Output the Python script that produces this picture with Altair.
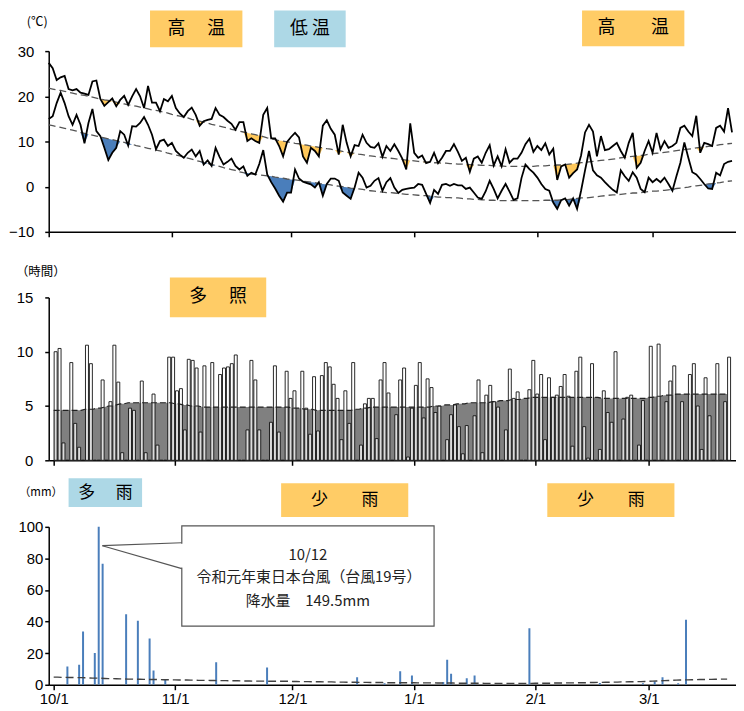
import altair as alt
import pandas as pd

START = "2019-10-01"

# daily maximum temperature (deg C), 2019-10-01 .. 2020-03-21
tmax = [27.4, 26.2, 23.6, 24.2, 24.5, 21.6, 21.3, 21.6, 20.8, 20.6,
        20.3, 23.3, 23.5, 19.4, 17.9, 18.7, 19.5, 17.8, 19.2, 20.1,
        18.1, 20.0, 21.6, 20.0, 17.4, 22.3, 18.6, 18.6, 16.7, 19.4,
        18.9, 20.1, 17.4, 16.2, 15.4, 16.7, 17.5, 15.9, 13.5, 14.5,
        14.8, 15.0, 17.4, 15.9, 15.4, 14.6, 13.9, 12.6, 14.3, 14.3,
        10.1, 10.7, 10.1, 9.7, 15.9, 17.4, 10.7, 10.7, 9.0, 6.7,
        9.9, 11.0, 11.9, 10.9, 6.7, 5.3, 8.6, 7.9, 6.7, 13.5,
        14.7, 12.8, 11.5, 7.1, 13.7, 9.7, 6.7, 9.2, 9.0, 11.5,
        9.7, 8.8, 8.6, 9.6, 6.6, 9.0, 7.9, 9.4, 7.9, 6.2,
        3.8, 14.0, 7.5, 6.4, 6.9, 5.2, 5.5, 7.5, 5.2, 6.4,
        7.9, 7.9, 9.4, 7.7, 5.7, 6.4, 3.3, 6.2, 6.7, 5.3,
        7.5, 9.2, 4.7, 6.7, 4.5, 8.3, 5.3, 6.2, 6.2, 7.5,
        9.4, 10.6, 7.7, 9.0, 8.1, 9.6, 7.1, 8.4, 1.5, 4.5,
        4.9, 2.0, 3.0, 3.8, 6.9, 12.0, 13.7, 12.2, 6.7, 11.2,
        8.1, 8.3, 9.0, 9.7, 7.9, 6.4, 9.7, 11.9, 4.2, 5.3,
        7.9, 10.1, 7.5, 11.9, 8.3, 10.1, 8.6, 9.0, 9.7, 13.0,
        13.5, 12.2, 11.2, 15.7, 7.5, 9.7, 9.4, 9.0, 13.0, 13.5,
        12.2, 17.4, 12.0]

# daily minimum temperature (deg C)
tmin = [15.0, 15.6, 18.5, 20.8, 18.5, 15.6, 13.7, 15.9, 13.7, 9.6,
        14.1, 17.2, 12.3, 11.2, 8.6, 5.9, 7.5, 8.6, 12.3, 11.5,
        9.1, 13.4, 13.3, 14.1, 15.4, 13.7, 11.5, 8.3, 10.1, 10.4,
        9.0, 9.7, 7.9, 7.1, 6.4, 7.5, 8.2, 6.7, 7.9, 4.9,
        5.8, 4.6, 8.6, 6.6, 4.9, 5.5, 6.2, 4.6, 3.8, 4.5,
        2.4, 3.1, 2.7, 5.0, 8.1, 2.7, 1.0, -0.4, -2.0, -3.3,
        -1.3, -1.3, 3.8, 1.8, 1.1, 0.8, 0.5, -0.2, 1.0, -2.0,
        0.6, 1.8, 1.8, 1.3, -1.3, -2.0, -2.7, -0.2, 3.1, 2.0,
        -0.2, 0.2, 1.3, 1.9, -0.9, 1.0, 1.9, -0.2, -1.4, -0.7,
        -0.5, -0.3, -0.2, 0.6, 0.4, -1.6, -3.6, -0.7, -1.6, 0.4,
        0.6, 0.2, 0.6, 0.3, 0.3, -0.5, -0.2, -1.3, -2.4, -2.7,
        -1.0, 1.3, -0.5, -2.6, -0.9, 0.6, -1.1, -2.9, -2.6, 1.9,
        4.9, 3.9, 3.1, 2.0, 0.6, -0.5, -0.9, -3.5, -4.9, -3.0,
        -2.6, -4.2, -2.6, -4.9, -0.9, 3.6, 7.9, 3.6, 2.5, 2.0,
        1.0, 0.1, -0.7, -1.3, 3.6, 2.3, 1.3, 3.2, 2.0, -0.5,
        -1.2, 2.0, 1.0, 1.7, 1.0, 2.0, 0.6, -0.9, 2.3, 5.3,
        9.8, 6.4, 3.2, 2.7, 1.7, 0.6, -0.4, -0.5, 3.1, 2.5,
        5.0, 5.5, 5.7]

# normal (平年) maximum temperature
tmax_normal = [21.8, 21.6, 21.4, 21.3, 21.1, 20.9, 20.7, 20.5, 20.3, 20.2,
               20.0, 19.8, 19.6, 19.4, 19.2, 19.1, 18.9, 18.7, 18.5, 18.3,
               18.1, 18.0, 17.8, 17.6, 17.4, 17.2, 17.0, 16.9, 16.7, 16.5,
               16.3, 16.0, 15.8, 15.6, 15.4, 15.2, 14.9, 14.7, 14.5, 14.3,
               14.1, 13.8, 13.6, 13.4, 13.2, 13.0, 12.7, 12.5, 12.3, 12.1,
               11.9, 11.7, 11.5, 11.3, 11.1, 10.8, 10.6, 10.4, 10.2, 10.1,
               9.9, 9.8, 9.6, 9.5, 9.3, 9.2, 9.0, 8.9, 8.7, 8.6,
               8.4, 8.3, 8.1, 8.0, 7.8, 7.7, 7.5, 7.4, 7.2, 7.1,
               6.9, 6.8, 6.7, 6.6, 6.5, 6.4, 6.3, 6.2, 6.1, 6.0,
               5.9, 5.8, 5.7, 5.6, 5.5, 5.5, 5.4, 5.3, 5.3, 5.2,
               5.2, 5.1, 5.1, 5.0, 5.0, 4.9, 4.9, 4.8, 4.8, 4.7,
               4.7, 4.7, 4.6, 4.6, 4.6, 4.5, 4.5, 4.5, 4.5, 4.5,
               4.5, 4.5, 4.5, 4.6, 4.6, 4.6, 4.7, 4.7, 4.8, 4.8,
               4.9, 5.0, 5.1, 5.2, 5.3, 5.4, 5.5, 5.6, 5.7, 5.8,
               5.9, 6.0, 6.1, 6.2, 6.4, 6.5, 6.6, 6.7, 6.8, 6.9,
               7.0, 7.2, 7.3, 7.4, 7.5, 7.6, 7.7, 7.8, 8.0, 8.1,
               8.2, 8.3, 8.4, 8.6, 8.7, 8.8, 8.9, 9.0, 9.1, 9.3,
               9.4, 9.5, 9.6]

# normal minimum temperature
tmin_normal = [13.7, 13.5, 13.3, 13.1, 12.9, 12.7, 12.5, 12.3, 12.0, 11.8,
               11.6, 11.4, 11.2, 11.0, 10.8, 10.6, 10.4, 10.2, 10.0, 9.8,
               9.6, 9.4, 9.1, 8.9, 8.7, 8.5, 8.3, 8.1, 7.9, 7.7,
               7.4, 7.2, 7.0, 6.8, 6.5, 6.3, 6.1, 5.8, 5.6, 5.4,
               5.2, 4.9, 4.7, 4.5, 4.2, 4.0, 3.8, 3.6, 3.3, 3.1,
               3.0, 2.8, 2.7, 2.6, 2.5, 2.4, 2.3, 2.1, 2.0, 1.9,
               1.7, 1.6, 1.5, 1.4, 1.2, 1.1, 1.0, 0.9, 0.7, 0.6,
               0.5, 0.4, 0.2, 0.1, 0.0, -0.1, -0.3, -0.4, -0.5, -0.6,
               -0.8, -0.9, -1.0, -1.1, -1.2, -1.3, -1.3, -1.4, -1.5, -1.6,
               -1.7, -1.7, -1.8, -1.9, -2.0, -2.0, -2.1, -2.2, -2.3, -2.3,
               -2.4, -2.4, -2.5, -2.5, -2.6, -2.7, -2.7, -2.8, -2.8, -2.9,
               -2.9, -3.0, -3.0, -3.1, -3.1, -3.1, -3.1, -3.1, -3.1, -3.1,
               -3.1, -3.1, -3.1, -3.1, -3.1, -3.0, -3.0, -3.0, -3.0, -2.9,
               -2.9, -2.8, -2.7, -2.6, -2.5, -2.5, -2.4, -2.3, -2.2, -2.1,
               -2.0, -1.9, -1.8, -1.8, -1.7, -1.6, -1.5, -1.4, -1.4, -1.3,
               -1.2, -1.1, -1.0, -1.0, -0.9, -0.8, -0.7, -0.6, -0.4, -0.3,
               -0.2, -0.1, 0.1, 0.2, 0.3, 0.4, 0.6, 0.7, 0.8, 0.9,
               1.1, 1.2, 1.3]

# daily sunshine duration (hours)
sun = [10.0, 10.3, 1.6, 0.0, 9.0, 3.4, 1.2, 0.0, 10.6, 8.9,
       0.0, 0.0, 7.4, 0.0, 5.4, 10.6, 7.2, 0.7, 0.0, 4.8,
       4.6, 0.0, 7.3, 0.7, 0.0, 6.1, 1.4, 0.0, 0.0, 9.5,
       9.5, 6.4, 6.6, 2.8, 9.3, 9.2, 8.5, 2.6, 8.7, 0.0,
       9.0, 0.0, 7.9, 8.5, 8.6, 8.9, 9.7, 0.0, 0.0, 2.8,
       9.2, 7.4, 2.8, 0.0, 0.0, 3.5, 8.7, 2.6, 0.0, 8.2,
       5.7, 6.4, 0.0, 8.2, 4.8, 2.4, 7.7, 2.7, 7.8, 9.0,
       8.6, 7.0, 5.7, 1.9, 6.4, 3.4, 9.0, 0.0, 1.4, 5.2,
       5.7, 5.7, 2.0, 7.4, 9.0, 6.2, 0.0, 4.2, 7.4, 8.5,
       0.3, 4.8, 6.9, 9.0, 3.9, 7.5, 6.7, 4.4, 5.0, 0.0,
       1.9, 4.2, 5.1, 3.1, 0.6, 3.2, 0.0, 4.1, 7.4, 0.7,
       6.0, 6.9, 5.4, 4.9, 0.0, 2.8, 8.4, 5.7, 6.3, 0.0,
       0.0, 6.5, 9.2, 6.1, 7.9, 1.9, 7.6, 5.8, 6.0, 6.8,
       7.9, 5.9, 1.3, 8.2, 9.5, 3.1, 0.2, 8.9, 0.0, 1.0,
       6.4, 4.4, 3.5, 10.0, 0.0, 3.8, 5.8, 6.0, 0.0, 1.4,
       5.5, 0.0, 10.5, 0.0, 10.7, 0.0, 5.4, 7.3, 8.7, 0.0,
       5.4, 0.0, 7.9, 8.9, 5.0, 1.0, 7.6, 4.1, 0.0, 8.9,
       0.0, 5.4, 9.5]

# normal sunshine duration (hours)
sun_normal = [4.6, 4.6, 4.6, 4.6, 4.6, 4.6, 4.6, 4.6, 4.7, 4.7,
              4.7, 4.8, 4.8, 4.9, 5.0, 5.0, 5.1, 5.2, 5.2, 5.3,
              5.3, 5.3, 5.3, 5.3, 5.3, 5.3, 5.3, 5.3, 5.3, 5.3,
              5.3, 5.2, 5.2, 5.1, 5.1, 5.0, 5.0, 5.0, 4.9, 4.9,
              4.9, 4.9, 4.9, 4.9, 4.9, 4.9, 4.9, 4.9, 4.9, 4.9,
              4.9, 4.9, 4.9, 4.9, 4.9, 4.9, 4.9, 4.9, 4.9, 4.9,
              4.9, 4.8, 4.8, 4.8, 4.7, 4.7, 4.7, 4.6, 4.6, 4.6,
              4.6, 4.6, 4.6, 4.6, 4.6, 4.6, 4.6, 4.7, 4.7, 4.8,
              4.8, 4.9, 4.9, 4.9, 4.9, 4.9, 4.9, 4.9, 4.9, 4.9,
              4.9, 4.9, 4.9, 4.9, 4.9, 4.9, 4.9, 5.0, 5.0, 5.0,
              5.1, 5.1, 5.1, 5.2, 5.2, 5.2, 5.3, 5.3, 5.3, 5.3,
              5.3, 5.3, 5.4, 5.4, 5.5, 5.5, 5.5, 5.6, 5.6, 5.6,
              5.7, 5.7, 5.8, 5.8, 5.8, 5.8, 5.8, 5.8, 5.8, 5.8,
              5.8, 5.8, 5.8, 5.8, 5.8, 5.8, 5.8, 5.8, 5.8, 5.8,
              5.7, 5.7, 5.7, 5.7, 5.7, 5.7, 5.7, 5.7, 5.7, 5.7,
              5.7, 5.7, 5.8, 5.8, 5.9, 5.9, 6.0, 6.0, 6.0, 6.1,
              6.1, 6.1, 6.1, 6.1, 6.1, 6.1, 6.1, 6.1, 6.1, 6.1,
              6.1, 6.1, 6.1]

# normal daily precipitation (mm)
rain_normal = [4.8, 4.8, 4.7, 4.7, 4.6, 4.6, 4.5, 4.5, 4.4, 4.3,
               4.2, 4.2, 4.1, 4.0, 3.9, 3.9, 3.8, 3.7, 3.7, 3.6,
               3.6, 3.5, 3.5, 3.4, 3.4, 3.3, 3.3, 3.3, 3.2, 3.2,
               3.1, 3.1, 3.0, 3.0, 3.0, 2.9, 2.9, 2.8, 2.8, 2.8,
               2.7, 2.7, 2.6, 2.6, 2.6, 2.5, 2.5, 2.5, 2.4, 2.4,
               2.4, 2.3, 2.3, 2.3, 2.3, 2.2, 2.2, 2.2, 2.2, 2.2,
               2.2, 2.1, 2.1, 2.0, 2.0, 2.0, 1.9, 1.9, 1.9, 1.8,
               1.8, 1.8, 1.7, 1.7, 1.7, 1.6, 1.6, 1.6, 1.5, 1.5,
               1.5, 1.4, 1.4, 1.4, 1.4, 1.3, 1.3, 1.3, 1.3, 1.3,
               1.3, 1.3, 1.3, 1.2, 1.2, 1.2, 1.2, 1.2, 1.1, 1.1,
               1.1, 1.1, 1.1, 1.0, 1.0, 1.0, 1.0, 1.0, 1.0, 1.0,
               0.9, 0.9, 0.9, 0.9, 0.9, 0.9, 0.9, 0.9, 0.9, 0.9,
               0.9, 0.9, 0.9, 1.0, 1.0, 1.0, 1.0, 1.0, 1.1, 1.1,
               1.1, 1.2, 1.2, 1.2, 1.3, 1.3, 1.3, 1.4, 1.4, 1.5,
               1.5, 1.6, 1.6, 1.7, 1.7, 1.8, 1.8, 1.9, 1.9, 2.0,
               2.0, 2.1, 2.2, 2.3, 2.4, 2.5, 2.6, 2.7, 2.8, 2.9,
               3.0, 3.1, 3.1, 3.2, 3.2, 3.3, 3.3, 3.4, 3.4, 3.5,
               3.5, 3.6, 3.6]

# days with precipitation (mm)
rain_dates = ["2019-10-04", "2019-10-07", "2019-10-08", "2019-10-11", "2019-10-12",
              "2019-10-13", "2019-10-19", "2019-10-22", "2019-10-25", "2019-10-26",
              "2019-10-29", "2019-11-11", "2019-11-24", "2019-12-17", "2019-12-24",
              "2019-12-28", "2019-12-31", "2020-01-08", "2020-01-09", "2020-01-10",
              "2020-01-14", "2020-01-16", "2020-01-30", "2020-02-17", "2020-02-28",
              "2020-03-02", "2020-03-04", "2020-03-08", "2020-03-10"]
rain_mm = [11.5, 12.6, 33.8, 20.1, 149.5,
           76.7, 44.6, 40.5, 29.3, 9.0,
           3.4, 14.3, 10.9, 4.8, 1.0,
           8.6, 5.9, 1.7, 15.9, 6.9,
           4.2, 5.9, 35.8, 1.1, 1.0,
           2.1, 4.8, 1.0, 41.1]

n = len(tmax)
assert all(len(a) == n for a in [tmin, tmax_normal, tmin_normal, sun, sun_normal, rain_normal])
assert len(rain_dates) == len(rain_mm)

dates = pd.date_range(START, periods=n, freq="D")
daily = pd.DataFrame({
    "date": dates,
    "mid": dates + pd.Timedelta(hours=12),
    "tmax": tmax, "tmin": tmin,
    "nmax": tmax_normal, "nmin": tmin_normal,
    "sun": sun, "nsun": sun_normal, "nrain": rain_normal,
})
daily["max_low"] = daily[["tmax", "nmax"]].min(axis=1)
daily["min_low"] = daily[["tmin", "nmin"]].min(axis=1)
rain = pd.DataFrame({"mid": pd.to_datetime(rain_dates) + pd.Timedelta(hours=12), "mm": rain_mm})
one = pd.DataFrame({"k": [0]})

JP = "Noto Sans CJK JP"
NUM = "Liberation Sans"
W = 692
ORANGE = "#FFCC66"
LBLUE = "#ADD8E6"
BLUE = "#4A7EBB"

month_ticks = ([alt.DateTime(year=2019, month=m, date=1) for m in (10, 11, 12)] +
               [alt.DateTime(year=2020, month=m, date=1) for m in (1, 2, 3)])
xscale = alt.Scale(domain=[alt.DateTime(year=2019, month=10, date=1),
                           alt.DateTime(year=2020, month=3, date=22)])


def X(field, show=False):
    return alt.X(field, type="temporal", scale=xscale,
                 axis=alt.Axis(values=month_ticks, format="%-m/%-d", labels=show, title=None,
                               grid=False, tickSize=5, labelFlush=False, labelPadding=2))


def make_y(domain, values, pad):
    sc = alt.Scale(domain=domain)
    ax = alt.Axis(values=values, title=None, grid=False, tickSize=4, labelPadding=pad, minExtent=41)

    def f(field):
        return alt.Y(field, type="quantitative", scale=sc, axis=ax)
    return f


def box(x1, x2, y1, y2, color, text, size=18):
    r = alt.Chart(one).mark_rect(color=color).encode(
        x=alt.value(x1), x2=alt.value(x2), y=alt.value(y1), y2=alt.value(y2))
    t = alt.Chart(one).mark_text(text=text, font=JP, fontSize=size, color="black",
                                 align="center", baseline="middle").encode(
        x=alt.value((x1 + x2) / 2), y=alt.value((y1 + y2) / 2))
    return [r, t]


def label(text, x, y, size, align="left", color="black"):
    return alt.Chart(one).mark_text(text=text, font=JP, fontSize=size, align=align,
                                    baseline="middle", color=color).encode(
        x=alt.value(x), y=alt.value(y))


dash = dict(strokeDash=[7, 4], color="#555555", strokeWidth=1.3)

# ---------- temperature ----------
YT = make_y([-10, 30], [-10, 0, 10, 20, 30], 11)
tb = alt.Chart(daily)
temp = alt.layer(
    tb.mark_area(color="#FFC85A").encode(x=X("date"), y=YT("max_low"), y2="nmax:Q"),
    tb.mark_area(color=BLUE).encode(x=X("date"), y=YT("min_low"), y2="nmin:Q"),
    tb.mark_line(**dash).encode(x=X("date"), y=YT("nmax")),
    tb.mark_line(**dash).encode(x=X("date"), y=YT("nmin")),
    tb.mark_line(color="black", strokeWidth=1.8).encode(x=X("date"), y=YT("tmax")),
    tb.mark_line(color="black", strokeWidth=1.8).encode(x=X("date"), y=YT("tmin")),
    *box(102, 195, -41, -4, ORANGE, "高　 温"),
    *box(227, 299, -41, -4, LBLUE, "低 温"),
    *box(537, 640, -41, -5, ORANGE, "高　　温"),
    label("(℃)", -22, -29, 12.5),
).properties(width=W, height=182)

# ---------- sunshine ----------
YS = make_y([0, 15], [0, 5, 10, 15], 12)
sb = alt.Chart(daily)
sunp = alt.layer(
    sb.mark_area(color="#808080").encode(x=X("date"), y=YS("nsun")),
    sb.mark_bar(size=3, fill="white", fillOpacity=0.72, stroke="#111111", strokeWidth=0.9).encode(
        x=X("mid"), y=YS("sun")),
    sb.mark_line(strokeDash=[6, 3], color="#222222", strokeWidth=1.2).encode(x=X("date"), y=YS("nsun")),
    *box(122, 219, -20, 20, ORANGE, "多　 照"),
    label("（時間）", -33, -26, 12.5),
).properties(width=W, height=164)

# ---------- precipitation ----------
YR = make_y([0, 100], [0, 20, 40, 60, 80, 100], 2)
rainp = alt.layer(
    alt.Chart(rain).mark_bar(size=2, color=BLUE, clip=True).encode(x=X("mid", True), y=YR("mm")),
    alt.Chart(daily).mark_line(strokeDash=[8, 4], color="#404040", strokeWidth=1.4).encode(
        x=X("date", True), y=YR("nrain")),
    alt.Chart(one).mark_rect(fill="white", stroke="#555555", strokeWidth=1.2).encode(
        x=alt.value(134), x2=alt.value(388), y=alt.value(-1), y2=alt.value(100)),
    alt.Chart(one).mark_rule(color="white", strokeWidth=3).encode(
        x=alt.value(134), y=alt.value(17), y2=alt.value(41)),
    alt.Chart(one).mark_rule(color="#555555", strokeWidth=1.2).encode(
        x=alt.value(134), y=alt.value(16), x2=alt.value(54), y2=alt.value(19)),
    alt.Chart(one).mark_rule(color="#555555", strokeWidth=1.2).encode(
        x=alt.value(54), y=alt.value(19), x2=alt.value(134), y2=alt.value(42)),
    label("10/12", 261, 28, 15, align="center", color="#222222"),
    label("令和元年東日本台風（台風19号）", 262, 51, 15, align="center", color="#222222"),
    label("降水量　149.5mm", 261, 75, 15, align="center", color="#222222"),
    *box(20, 94, -49, -20, LBLUE, "多　 雨", 17),
    *box(234, 362, -44, -10, ORANGE, "少　　雨", 17),
    *box(502, 630, -44, -10, ORANGE, "少　　雨", 17),
    label("（mm）", -30, -34, 11.5),
).properties(width=W, height=159)

top = alt.vconcat(temp, sunp, spacing=26).resolve_scale(x="independent", y="independent")
chart = (
    alt.vconcat(top, rainp, spacing=10)
    .resolve_scale(x="independent", y="independent")
    .properties(padding={"left": 0, "top": 0, "right": 0, "bottom": 0})
    .configure_view(strokeWidth=0)
    .configure_axis(labelFont=NUM, labelFontSize=15, labelColor="black",
                    domainColor="black", tickColor="black", domainWidth=1.5, tickWidth=1.5)
)

chart.save("out.html", embed_options={"renderer": "svg", "actions": False})
